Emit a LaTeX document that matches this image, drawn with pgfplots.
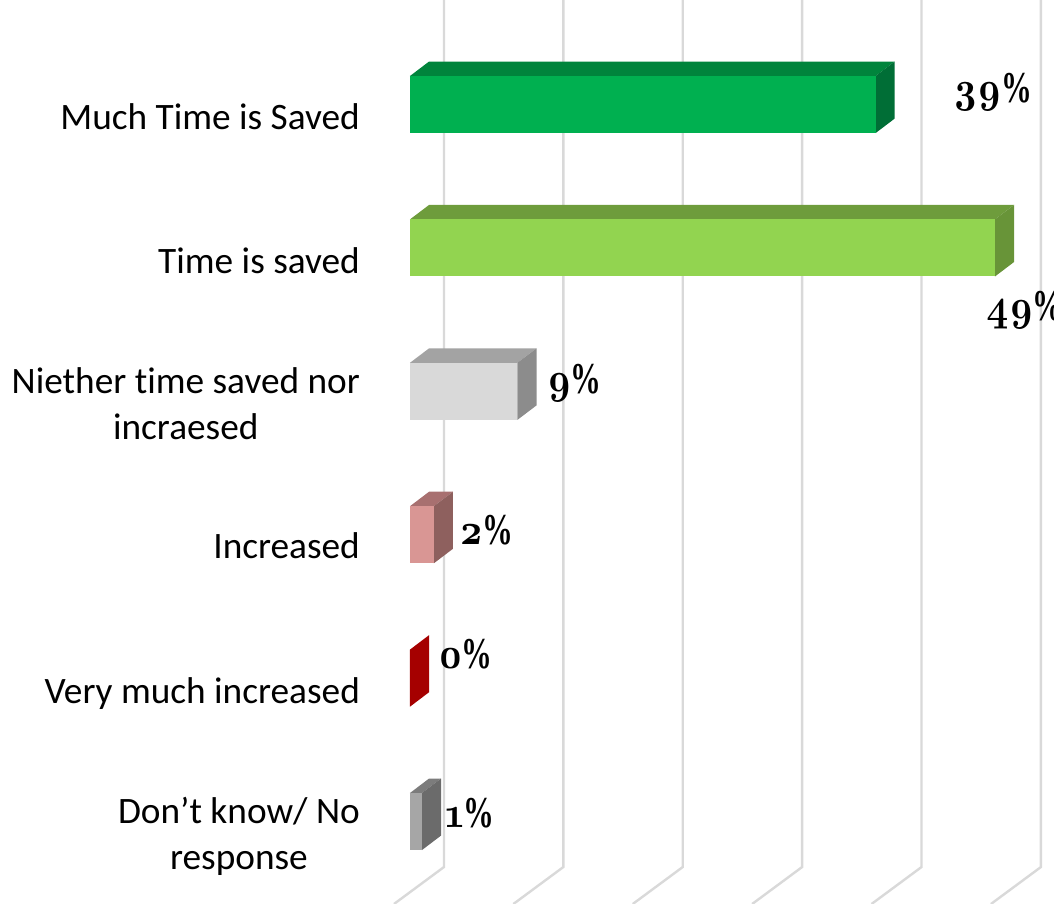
\documentclass[border=0pt]{standalone}
\usepackage{pgfplots}
\pgfplotsset{compat=1.18}
\usepackage{fontspec}
\setmainfont{Carlito}[Ligatures=NoCommon]
\newfontfamily\lab{lmroman10-bold.otf}[Numbers=OldStyle,FakeStretch=0.86]
\newfontfamily\pct{Liberation Serif Bold}[FakeStretch=0.7]
\definecolor{gridc}{HTML}{D9D9D9}
\newcommand{\dl}[3]{\node[anchor=base west,inner sep=0pt] at (axis cs:#1,#2) {\fontsize{44}{44}\selectfont\lab #3\kern-1pt\fontsize{44}{44}\selectfont\pct\%};}
\begin{document}
\begin{tikzpicture}
\path[use as bounding box] (0,0) rectangle (1054pt,904pt);
\begin{axis}[
  at={(0,0)}, anchor=south west,
  width=1054pt, height=904pt, scale only axis,
  xmin=-34.34, xmax=53.94,
  ymin=-0.729, ymax=5.575, y dir=reverse,
  axis line style={draw=none},
  major tick length=0pt,
  xtick=\empty,
  ytick={0,1,2,2.986,4.02,5.014},
  yticklabels={Much Time is Saved,Time is saved,{Niether time saved nor\\incraesed},Increased,Very much increased,{Don’t know/ No\\response}},
  y tick label style={align=center,anchor=east,xshift=360pt,yshift=-12.5pt,inner sep=0pt,
     font=\fontsize{37.3}{46}\selectfont},
]
% gridlines
\addplot[gridc,line width=2.4pt] coordinates {(2.85,-0.729)(2.85,5.317)(-1.34,5.575)};
\addplot[gridc,line width=2.4pt] coordinates {(12.85,-0.729)(12.85,5.317)(8.66,5.575)};
\addplot[gridc,line width=2.4pt] coordinates {(22.85,-0.729)(22.85,5.317)(18.66,5.575)};
\addplot[gridc,line width=2.4pt] coordinates {(32.85,-0.729)(32.85,5.317)(28.66,5.575)};
\addplot[gridc,line width=2.4pt] coordinates {(42.85,-0.729)(42.85,5.317)(38.66,5.575)};
\addplot[gridc,line width=2.4pt] coordinates {(52.85,-0.729)(52.85,5.317)(48.66,5.575)};
% 39
\addplot[fill={rgb,255:red,0;green,132;blue,60},draw=none] coordinates {(0,-0.199)(39,-0.199)(40.6,-0.300)(1.6,-0.300)} --cycle;
\addplot[fill={rgb,255:red,0;green,110;blue,54},draw=none] coordinates {(39,-0.199)(40.6,-0.300)(40.6,0.098)(39,0.199)} --cycle;
\addplot[fill={rgb,255:red,0;green,176;blue,80},draw=none] coordinates {(0,-0.199)(39,-0.199)(39,0.199)(0,0.199)} --cycle;
% 49
\addplot[fill={rgb,255:red,110;green,156;blue,60},draw=none] coordinates {(0,0.801)(49,0.801)(50.6,0.700)(1.6,0.700)} --cycle;
\addplot[fill={rgb,255:red,104;green,148;blue,56},draw=none] coordinates {(49,0.801)(50.6,0.700)(50.6,1.098)(49,1.199)} --cycle;
\addplot[fill={rgb,255:red,146;green,212;blue,80},draw=none] coordinates {(0,0.801)(49,0.801)(49,1.199)(0,1.199)} --cycle;
% 9
\addplot[fill={rgb,255:red,163;green,163;blue,163},draw=none] coordinates {(0,1.801)(9,1.801)(10.6,1.700)(1.6,1.700)} --cycle;
\addplot[fill={rgb,255:red,140;green,140;blue,140},draw=none] coordinates {(9,1.801)(10.6,1.700)(10.6,2.098)(9,2.199)} --cycle;
\addplot[fill={rgb,255:red,217;green,217;blue,217},draw=none] coordinates {(0,1.801)(9,1.801)(9,2.199)(0,2.199)} --cycle;
% 2
\addplot[fill={rgb,255:red,168;green,112;blue,112},draw=none] coordinates {(0,2.801)(2,2.801)(3.6,2.700)(1.6,2.700)} --cycle;
\addplot[fill={rgb,255:red,142;green,96;blue,94},draw=none] coordinates {(2,2.801)(3.6,2.700)(3.6,3.098)(2,3.199)} --cycle;
\addplot[fill={rgb,255:red,217;green,150;blue,148},draw=none] coordinates {(0,2.801)(2,2.801)(2,3.199)(0,3.199)} --cycle;
% 0
\addplot[fill={rgb,255:red,165;green,0;blue,0},draw=none] coordinates {(0,3.801)(1.6,3.700)(1.6,4.098)(0,4.199)} --cycle;
% 1
\addplot[fill={rgb,255:red,124;green,124;blue,124},draw=none] coordinates {(0,4.801)(1,4.801)(2.6,4.700)(1.6,4.700)} --cycle;
\addplot[fill={rgb,255:red,107;green,107;blue,107},draw=none] coordinates {(1,4.801)(2.6,4.700)(2.6,5.098)(1,5.199)} --cycle;
\addplot[fill={rgb,255:red,166;green,166;blue,166},draw=none] coordinates {(0,4.801)(1,4.801)(1,5.199)(0,5.199)} --cycle;
% labels
\dl{45.5}{-0.017}{39}
\dl{48.3}{1.505}{49}
\dl{11.5}{2.012}{9}
\dl{4.1}{3.07}{2}
\dl{2.35}{3.936}{0}
\dl{3.0}{5.038}{1}
\end{axis}
\end{tikzpicture}
\end{document}
